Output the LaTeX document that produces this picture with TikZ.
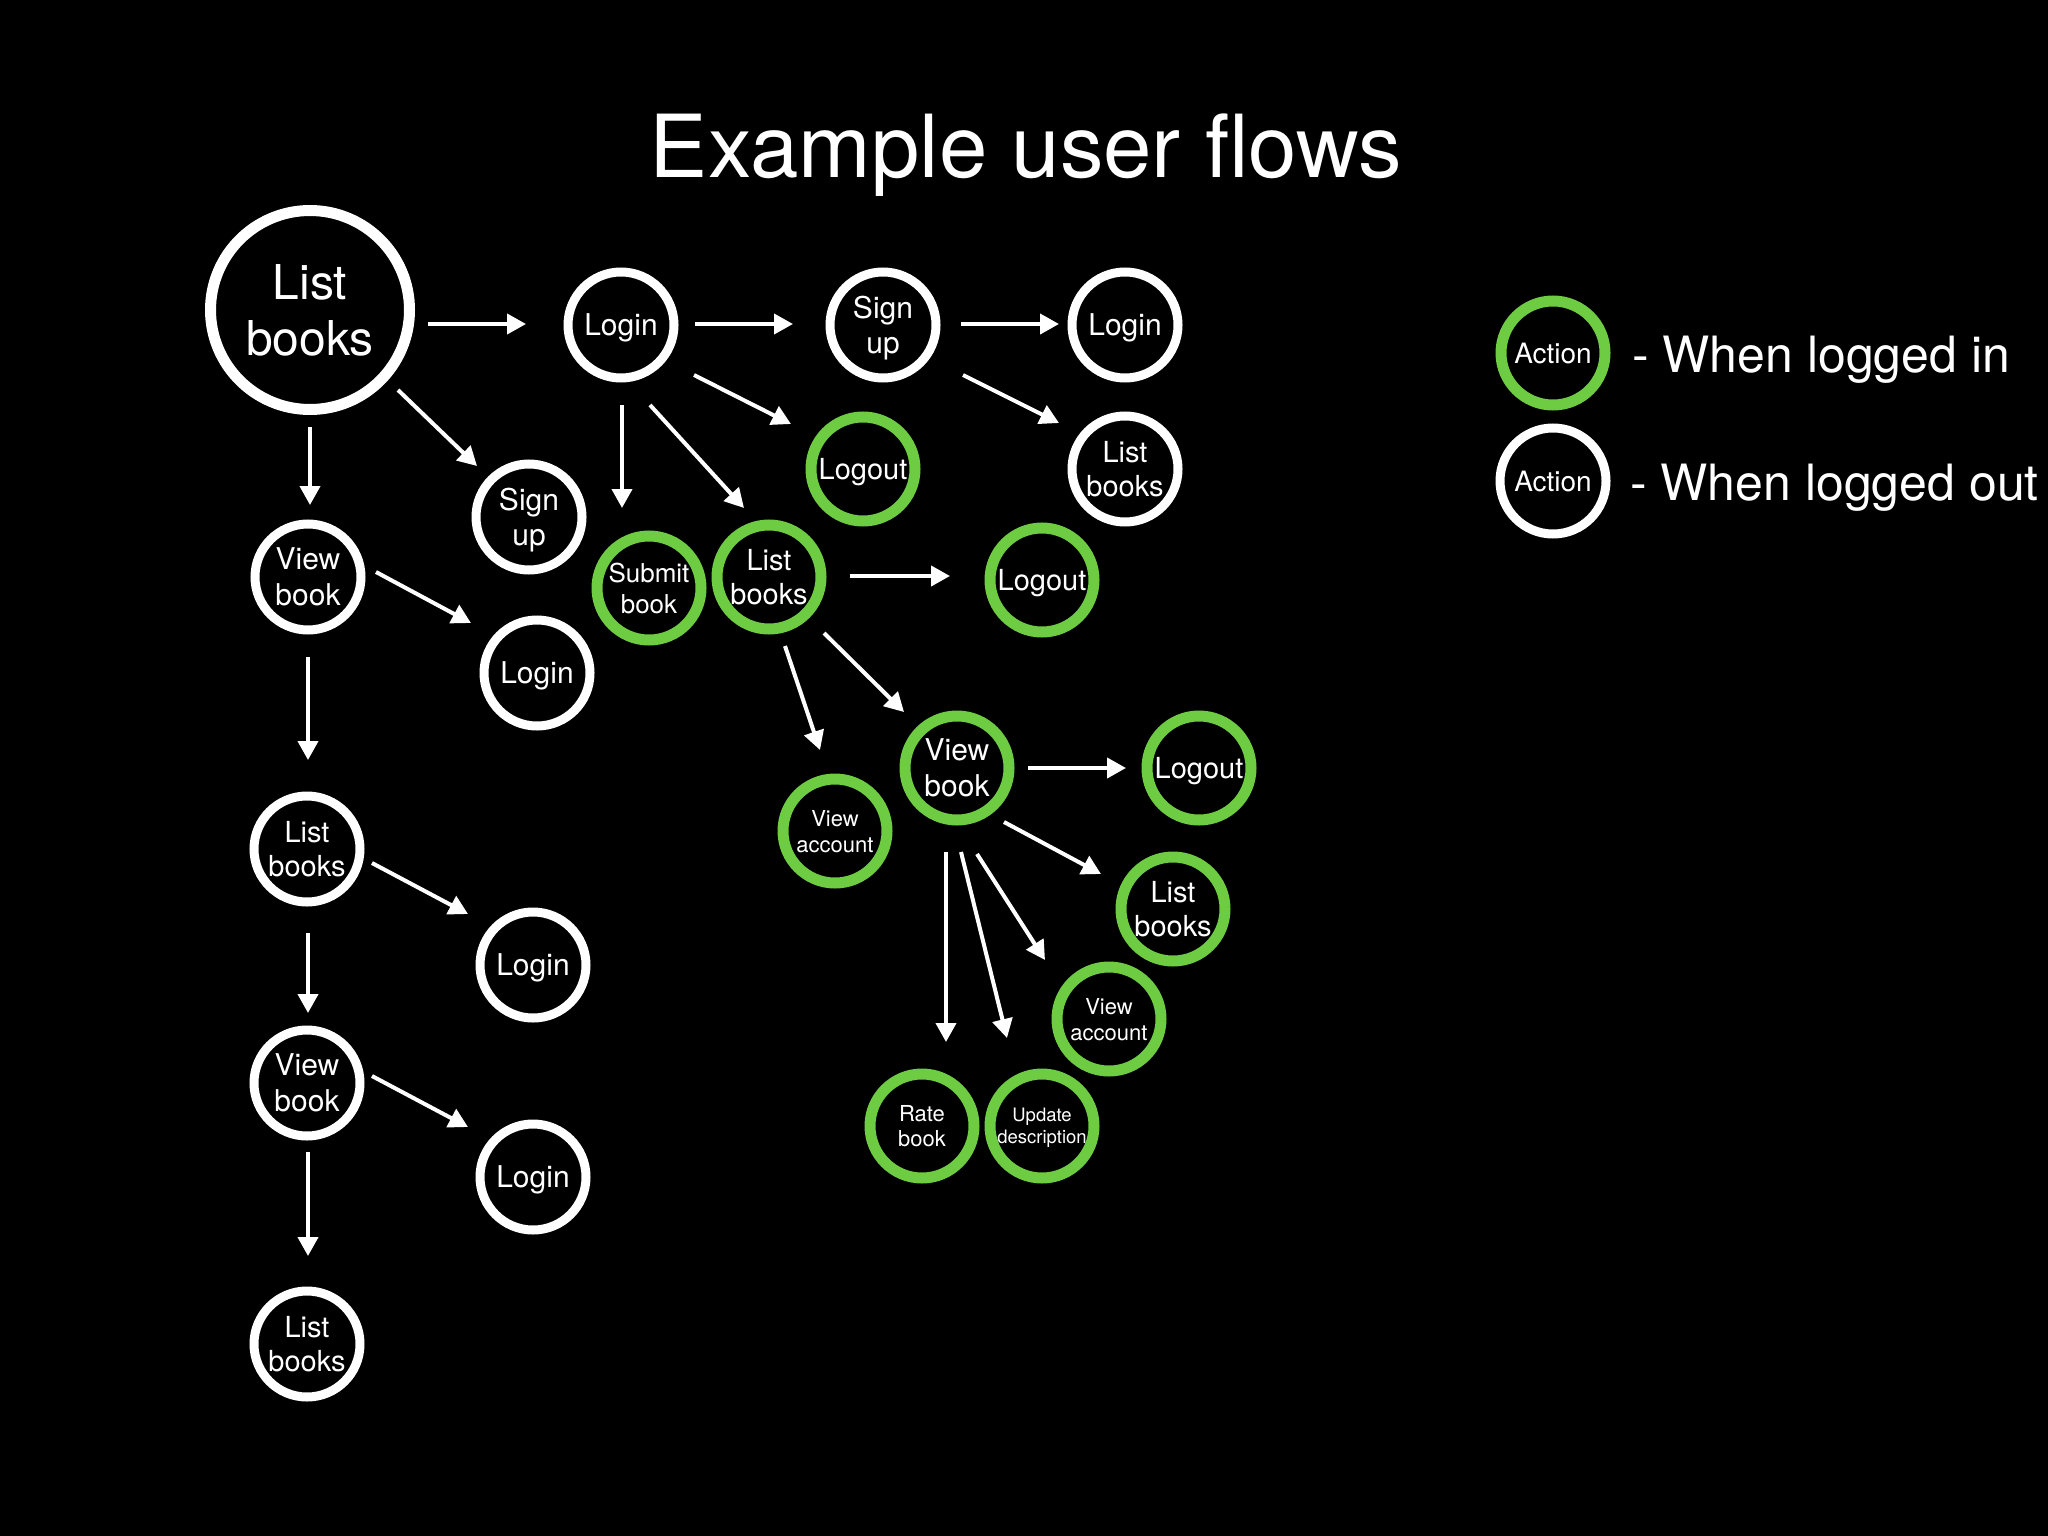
\documentclass[tikz,border=0pt]{standalone}
\usepackage{fontspec}
\setmainfont{TeX Gyre Heros}
\usetikzlibrary{arrows.meta}
\definecolor{lgreen}{RGB}{110,204,66}
\begin{document}
\begin{tikzpicture}[x=1pt,y=-1pt,
  wnode/.style={circle, draw=white, line width=9pt, minimum size=106pt, inner sep=0pt, text=white, align=center, text depth=0pt},
  gnode/.style={circle, draw=lgreen, line width=11pt, minimum size=104pt, inner sep=0pt, text=white, align=center, text depth=0pt},
  arr/.style={draw=white, line width=4pt, -{Triangle[length=19pt,width=20pt]}},
  tBig/.style={font=\fontsize{48pt}{56pt}\selectfont},
  tLogin/.style={font=\fontsize{30pt}{35pt}\selectfont},
  tList/.style={font=\fontsize{29pt}{34pt}\selectfont},
  tView/.style={font=\fontsize{30pt}{36pt}\selectfont},
  tSubmit/.style={font=\fontsize{26pt}{31pt}\selectfont},
  tAcct/.style={font=\fontsize{22pt}{26pt}\selectfont},
  tRate/.style={font=\fontsize{22pt}{25pt}\selectfont},
  tUpd/.style={font=\fontsize{18.5pt}{22pt}\selectfont},
  tAction/.style={font=\fontsize{28pt}{32pt}\selectfont},
  tLegend/.style={font=\fontsize{50pt}{60pt}\selectfont, text=white, inner sep=0pt},
]
\path[fill=black] (0,0) rectangle (2048,1536);

% title
\node[text=white, inner sep=0pt, anchor=base, font=\fontsize{87pt}{100pt}\selectfont] (title) at (1026,178) {Example user flows};

% logged-out nodes
\node[wnode, line width=11pt, minimum size=199pt, tBig] (LB0) at (310,310) {List\\books};
\node[wnode, tLogin] (Login1) at (621,325) {Login};
\node[wnode, tLogin] (SignUp1) at (883,325) {Sign\\up};
\node[wnode, tLogin] (Login2) at (1125,325) {Login};
\node[wnode, tList] (ListBooks2) at (1125,469) {List\\books};
\node[wnode, tLogin] (SignUp2) at (529,517) {Sign\\up};
\node[wnode, tView] (ViewBook1) at (308,577) {View\\book};
\node[wnode, tLogin] (Login3) at (537,673) {Login};
\node[wnode, tList] (ListBooks3) at (307,849) {List\\books};
\node[wnode, tLogin] (Login4) at (533,965) {Login};
\node[wnode, tView] (ViewBook2) at (307,1083) {View\\book};
\node[wnode, tLogin] (Login5) at (533,1177) {Login};
\node[wnode, tList] (ListBooks4) at (307,1344) {List\\books};

% logged-in nodes
\node[gnode, tList] (Logout1) at (863,469) {Logout};
\node[gnode, tSubmit] (SubmitBook) at (649,588) {Submit\\book};
\node[gnode, tList] (ListBooksG) at (769,577) {List\\books};
\node[gnode, tList] (Logout2) at (1042,580) {Logout};
\node[gnode, tAcct] (ViewAccount1) at (835,831) {View\\account};
\node[gnode, tView] (ViewBookG) at (957,768) {View\\book};
\node[gnode, tList] (Logout3) at (1199,768) {Logout};
\node[gnode, tList] (ListBooksG2) at (1173,909) {List\\books};
\node[gnode, tAcct] (ViewAccount2) at (1109,1019) {View\\account};
\node[gnode, tRate] (RateBook) at (922,1126) {Rate\\book};
\node[gnode, tUpd] (UpdateDesc) at (1042,1126) {Update\\description};

% legend
\node[gnode, tAction] (LegIn) at (1553,353) {Action};
\node[wnode, tAction] (LegOut) at (1553,481) {Action};
\node[tLegend, anchor=base west] (LegInText) at (1632,372) {- When logged in};
\node[tLegend, anchor=base west] (LegOutText) at (1630,500) {- When logged out};

% connectors
\draw[arr] ([shift={(118,14)}]LB0.center) -- ([shift={(-95,-1)}]Login1.center);
\draw[arr] ([shift={(88,80)}]LB0.center) -- ([shift={(-52,-51)}]SignUp2.center);
\draw[arr] ([shift={(0,117)}]LB0.center) -- ([shift={(2,-72)}]ViewBook1.center);
\draw[arr] ([shift={(74,-1)}]Login1.center) -- ([shift={(-90,-1)}]SignUp1.center);
\draw[arr] ([shift={(73,50)}]Login1.center) -- ([shift={(-72,-45)}]Logout1.center);
\draw[arr] ([shift={(1,80)}]Login1.center) -- ([shift={(-27,-80)}]SubmitBook.center);
\draw[arr] ([shift={(29,80)}]Login1.center) -- ([shift={(-25,-69)}]ListBooksG.center);
\draw[arr] ([shift={(78,-1)}]SignUp1.center) -- ([shift={(-66,-1)}]Login2.center);
\draw[arr] ([shift={(80,50)}]SignUp1.center) -- ([shift={(-66,-46)}]ListBooks2.center);
\draw[arr] ([shift={(68,-5)}]ViewBook1.center) -- ([shift={(-66,-50)}]Login3.center);
\draw[arr] ([shift={(0,80)}]ViewBook1.center) -- ([shift={(1,-89)}]ListBooks3.center);
\draw[arr] ([shift={(81,-1)}]ListBooksG.center) -- ([shift={(-92,-4)}]Logout2.center);
\draw[arr] ([shift={(16,69)}]ListBooksG.center) -- ([shift={(-15,-81)}]ViewAccount1.center);
\draw[arr] ([shift={(55,56)}]ListBooksG.center) -- ([shift={(-53,-56)}]ViewBookG.center);
\draw[arr] ([shift={(65,14)}]ListBooks3.center) -- ([shift={(-65,-51)}]Login4.center);
\draw[arr] ([shift={(1,84)}]ListBooks3.center) -- ([shift={(1,-70)}]ViewBook2.center);
\draw[arr] ([shift={(65,-7)}]ViewBook2.center) -- ([shift={(-65,-50)}]Login5.center);
\draw[arr] ([shift={(1,69)}]ViewBook2.center) -- ([shift={(1,-88)}]ListBooks4.center);
\draw[arr] ([shift={(71,0)}]ViewBookG.center) -- ([shift={(-73,0)}]Logout3.center);
\draw[arr] ([shift={(47,54)}]ViewBookG.center) -- ([shift={(-72,-35)}]ListBooksG2.center);
\draw[arr] ([shift={(20,86)}]ViewBookG.center) -- ([shift={(-64,-59)}]ViewAccount2.center);
\draw[arr] ([shift={(4,84)}]ViewBookG.center) -- ([shift={(-35,-88)}]UpdateDesc.center);
\draw[arr] ([shift={(-11,84)}]ViewBookG.center) -- ([shift={(24,-84)}]RateBook.center);
\end{tikzpicture}
\end{document}
